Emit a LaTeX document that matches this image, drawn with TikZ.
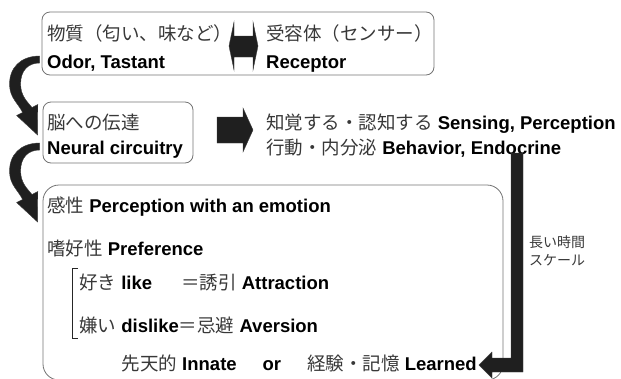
\documentclass[tikz,border=0pt]{standalone}
\usepackage{fontspec}
\setmainfont{Liberation Sans}
\newfontfamily\jpfont{Noto Sans CJK JP}
\usetikzlibrary{calc}
\newcommand\jptext[1]{{\jpfont\color{black!78}#1}}
\tikzset{
  boxstyle/.style={draw=black!55, line width=0.8pt, rounded corners=#1, inner sep=0pt},
  boxstyle/.default=8pt,
  txt/.style={anchor=base west, inner sep=0pt, font=\fontsize{18.5}{22}\selectfont},
  blockarrow/.style={fill=black!88, draw=black!75, line width=0.4pt},
  curvearrow/.pic={
    \path[blockarrow] (0,0) .. controls (-19,0) and (-31,12) .. (-30,30)
      .. controls (-29.5,42) and (-21,48) .. (-17,56.5)
      -- (-23,59.5) -- (-2,79) -- (-1.8,48.5) -- (-7.6,51.5)
      .. controls (-12,46) and (-19,40) .. (-19,28)
      .. controls (-19,14) and (-11,7) .. (0,7) -- cycle;
  }
}
\begin{document}
\begin{tikzpicture}[x=1pt,y=-1pt]
\useasboundingbox (0,0) rectangle (621,378);
% boxes
\node[boxstyle, minimum width=392pt, minimum height=63pt] (box1) at (238,43.5) {};
\node[boxstyle, minimum width=150pt, minimum height=61pt] (box2) at (118,132.5) {};
\node[boxstyle=16pt, minimum width=460pt, minimum height=195pt] (box3) at (273,282.5) {};
% texts
\node[txt] (t1a) at (47,40) {\jptext{物質（匂い、味など）}};
\node[txt] (t1b) at (47,68) {\textbf{Odor, Tastant}};
\node[txt] (t2a) at (266,40) {\jptext{受容体（センサー）}};
\node[txt] (t2b) at (266,68) {\textbf{Receptor}};
\node[txt] (t3a) at (47,129) {\jptext{脳への伝達}};
\node[txt] (t3b) at (47,154) {\textbf{Neural circuitry}};
\node[txt] (t4a) at (266,129) {\jptext{知覚する・認知する} \textbf{Sensing, Perception}};
\node[txt] (t4b) at (266,154) {\jptext{行動・内分泌} \textbf{Behavior, Endocrine}};
\node[txt] (t5) at (47,212) {\jptext{感性} \textbf{Perception with an emotion}};
\node[txt] (t6) at (47,255) {\jptext{嗜好性} \textbf{Preference}};
\node[txt] (t7) at (79,289) {\jptext{好き} \textbf{like}\hspace{29pt}\jptext{＝誘引} \textbf{Attraction}};
\node[txt] (t8) at (79,332) {\jptext{嫌い} \textbf{dislike}\jptext{＝忌避} \textbf{Aversion}};
\node[txt, anchor=base east] (t9) at (477,370) {\jptext{先天的} \textbf{Innate}\hspace{26pt}\textbf{or}\hspace{26pt}\jptext{経験・記憶} \textbf{Learned}};
\node[anchor=west, inner sep=0pt, align=left, font=\fontsize{14}{18}\selectfont] (lab) at (529,251) {\jptext{長い時間}\\\jptext{スケール}};
% bracket
\draw[black!85, line width=0.9pt] (78,268) -- (72,268) -- (72,338) -- (78,338);
% double arrow between substance and receptor
\path[blockarrow] (229,46) -- (234,22) -- (234,36) -- (253,36) -- (253,22) -- (258,46)
  -- (253,70) -- (253,57) -- (234,57) -- (234,70) -- cycle;
% right block arrow
\path[blockarrow] (217,117) -- (243,117) -- (243,108) -- (253,130) -- (243,152)
  -- (243,143) -- (217,143) -- cycle;
% long time-scale arrow
\path[blockarrow] (511,153) -- (523,153) -- (523,372) -- (492,372) -- (492,378)
  -- (479,365) -- (492,352) -- (492,358) -- (511,358) -- cycle;
% curved arrows
\pic at ($(box1.west)+(-2,12.5)$) {curvearrow};
\pic at ($(box2.west)+(-3,10.5)$) {curvearrow};
\end{tikzpicture}
\end{document}
